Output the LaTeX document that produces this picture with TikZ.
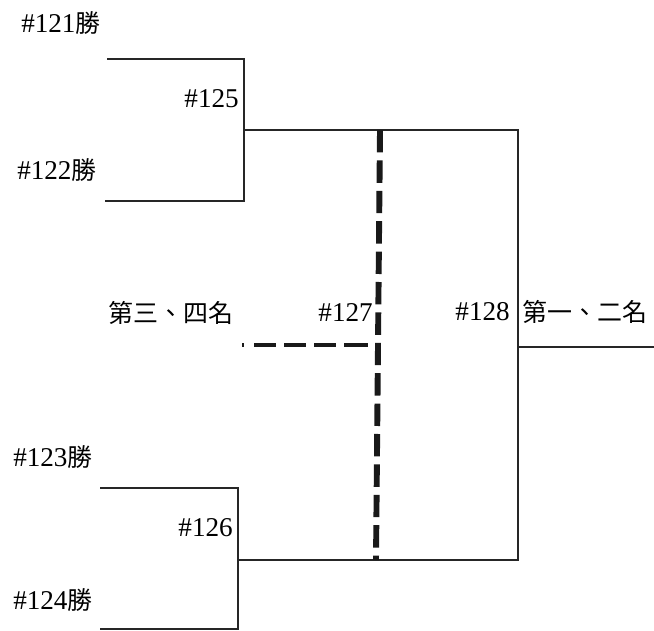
\documentclass[tikz,border=0pt]{standalone}
\usepackage{fontspec}
\setmainfont{Liberation Serif}
\newfontfamily\cjk[Scale=0.92]{Noto Sans CJK TC}
\usetikzlibrary{positioning}
\newcommand{\winner}[1]{\##1{\cjk 勝}}

\begin{document}
\begin{tikzpicture}[every node/.style={inner sep=0pt, font=\fontsize{19.3}{21}\selectfont},
                    bracket/.style={draw=black!85, line width=1.4pt},
                    thirdline/.style={draw=black!90, line width=4.2pt,
                        dash pattern=on 0.56cm off 0.2cm}]
\useasboundingbox (0,0) rectangle (16.35,15.75);

% first round
\node[anchor=west] (w121) at (0.525, 15.175) {\winner{121}};
\node[anchor=west] (w122) at (0.425, 11.5) {\winner{122}};
\node[anchor=west] (w123) at (0.325, 4.325) {\winner{123}};
\node[anchor=west] (w124) at (0.325, 0.75) {\winner{124}};
\node[anchor=east] (g125) at (5.975, 13.275) {\#125};
\node[anchor=east] (g126) at (5.825, 2.55) {\#126};
\node[anchor=east] (g127) at (9.325, 7.925) {\#127};
\node[anchor=east] (g128) at (12.75, 7.95) {\#128};
\node[anchor=west] (third) at (2.7, 7.925) {\cjk 第三、四名};
\node[anchor=west] (first) at (13.05, 7.95) {\cjk 第一、二名};

\coordinate (a1) at (2.675, 14.275);
\coordinate (a2) at (6.1, 14.275);
\coordinate (a3) at (6.1, 10.725);
\coordinate (a4) at (2.625, 10.725);
\coordinate (a5) at (6.1, 12.5);
\coordinate (b1) at (2.5, 3.55);
\coordinate (b2) at (5.95, 3.55);
\coordinate (b3) at (5.95, 0.03);
\coordinate (b4) at (2.5, 0.03);
\coordinate (b5) at (5.95, 1.75);
\coordinate (f1) at (12.95, 12.5);
\coordinate (f2) at (12.95, 1.75);
\coordinate (f3) at (12.95, 7.075);
\coordinate (out) at (16.35, 7.075);
\coordinate (d1) at (9.5, 12.5);
\coordinate (d2) at (9.4, 1.75);
\coordinate (d3) at (9.45, 7.125);
\coordinate (d4) at (6.05, 7.125);

\draw[bracket] (a1) -- (a2) -- (a3) -- (a4);
\draw[bracket] (b1) -- (b2) -- (b3) -- (b4);
\draw[bracket] (a5) -- (f1) -- (f2) -- (b5);
\draw[bracket] (f3) -- (out);

% third place match
\begin{scope}[every path/.style={thirdline}]
    \path (d1) -- (d2);
    \path[line width=3.2pt, dash pattern=on 0.05cm off 0.25cm on 0.55cm off 0.2cm
          on 0.55cm off 0.2cm on 0.55cm off 0.2cm on 0.6cm off 0.3cm] (d4) -- (d3);
\end{scope}
\end{tikzpicture}
\end{document}
